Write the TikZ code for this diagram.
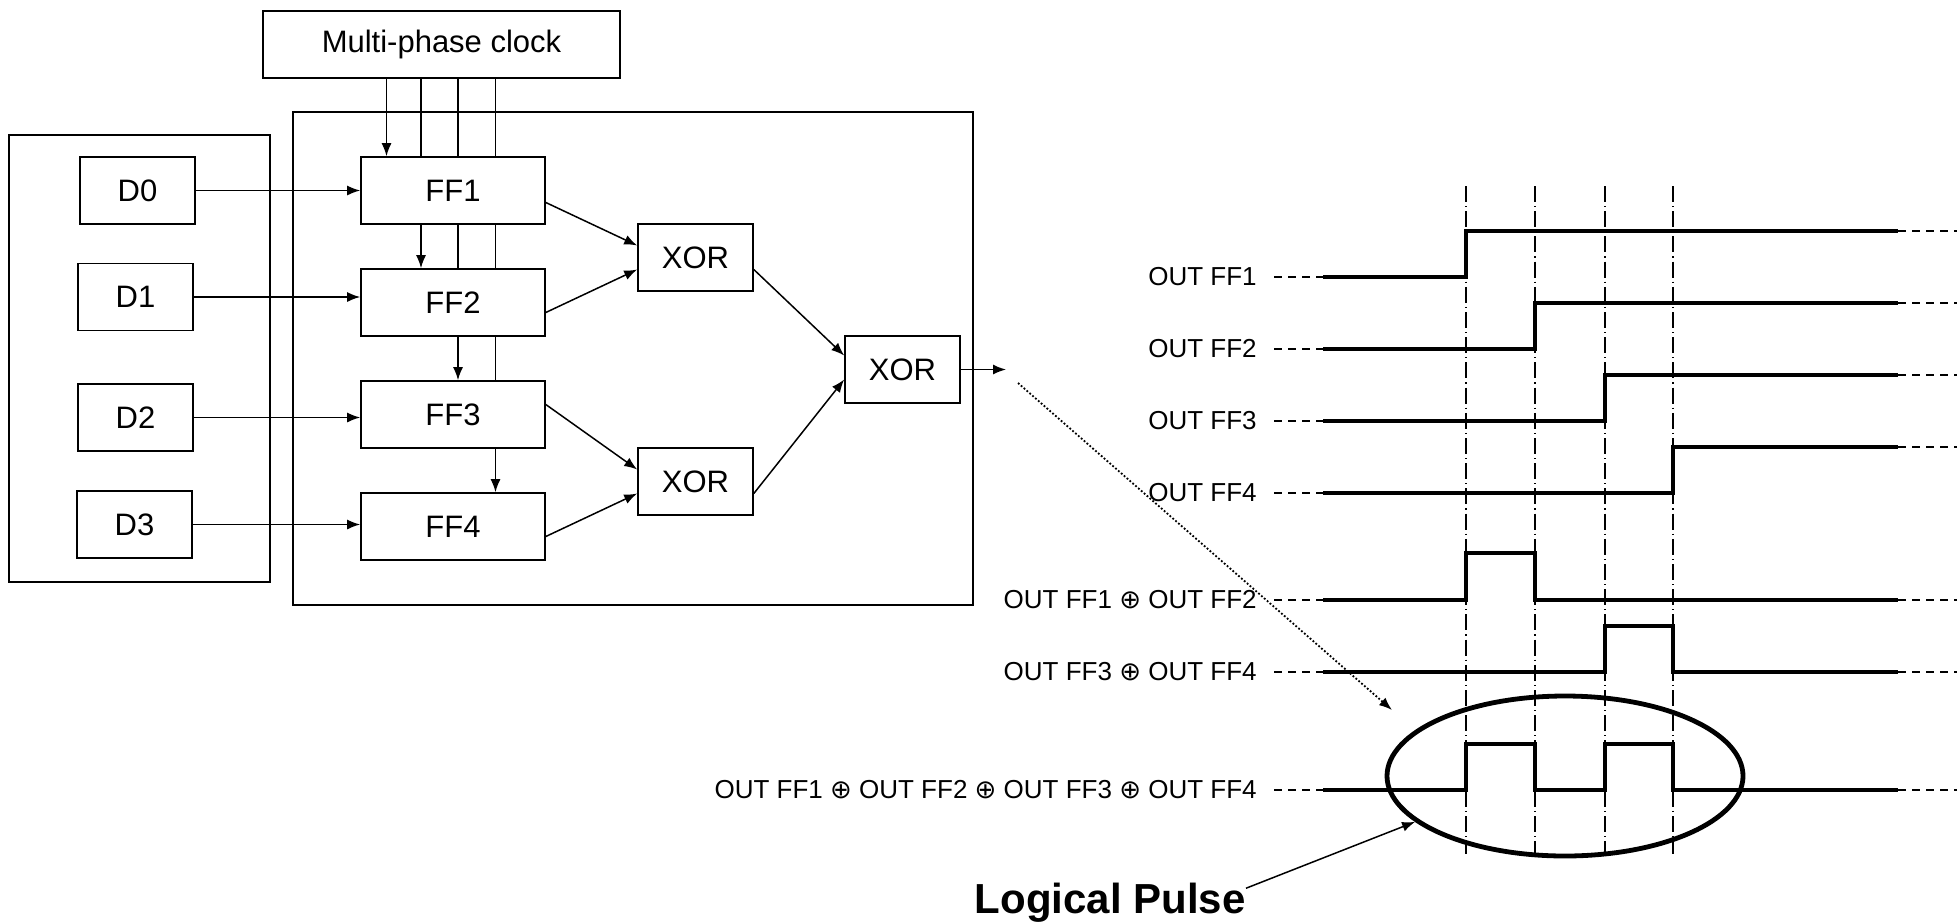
\documentclass[tikz,border=0pt]{standalone}
\usepackage{fontspec}
\setmainfont{Liberation Sans}
\newfontfamily\symfont{DejaVu Sans}
\usetikzlibrary{arrows.meta,shapes.geometric}
\newcommand{\xorsym}{{\symfont ⊕}}

\begin{document}
\begin{tikzpicture}[x=0.5pt, y=-0.5pt,
    >={Latex[length=6.5pt,width=5pt]},
    block/.style={draw, line width=.8pt, fill=white, minimum height=33.5pt,
                  inner sep=0pt, font=\fontsize{15.5}{18}\selectfont},
    ffbox/.style={block, minimum width=92pt},
    dbox/.style={block, minimum width=57.5pt},
    wire/.style={line width=.75pt},
    signal/.style={line width=1.7pt},
    sigdash/.style={line width=.75pt, dash pattern=on 4pt off 3pt},
    marker/.style={line width=.55pt, dash pattern=on 8pt off 2pt on .6pt off 2pt},
    siglabel/.style={anchor=east, inner sep=0pt, font=\fontsize{13}{15}\selectfont}]
  \useasboundingbox (0,0) rectangle (1957,921);

  % frames
  \draw[line width=.8pt] (9,135) rectangle (270,582);
  \draw[line width=.8pt] (293,112) rectangle (973,605);

  \node[block, minimum width=178.5pt] (clock) at (441.5,44.5) {Multi-phase clock};

  \node[dbox] (d0) at (137.5,190.5) {D0};
  \node[dbox] (d1) at (135.5,297) {D1};
  \node[dbox] (d2) at (135.5,417.5) {D2};
  \node[dbox] (d3) at (134.5,524.5) {D3};

  \node[ffbox] (ff1) at (453,190.5) {FF1};
  \node[ffbox] (ff2) at (453,302.5) {FF2};
  \node[ffbox] (ff3) at (453,414.5) {FF3};
  \node[ffbox] (ff4) at (453,526.5) {FF4};

  \node[dbox] (xora) at (695.5,257.5) {XOR};
  \node[dbox] (xorb) at (695.5,481.5) {XOR};
  \node[dbox] (xorc) at (902.5,369.5) {XOR};

  % clock phases
  \foreach \k/\x in {1/386.5, 2/421, 3/458, 4/495.5}
    \coordinate (k\k) at (\x,0);
  \foreach \a/\b/\k in {clock/ff1/k2, clock/ff1/k3, ff1/ff2/k3, clock/ff1/k4, ff1/ff2/k4, ff2/ff3/k4}
    \draw[wire] (\a.south -| \k) -- (\b.north -| \k);
  \foreach \a/\b/\k in {clock/ff1/k1, ff1/ff2/k2, ff2/ff3/k3, ff3/ff4/k4}
    \draw[wire,->] (\a.south -| \k) -- (\b.north -| \k);

  % data inputs
  \foreach \i in {0,...,3}
    \pgfmathtruncatemacro{\j}{\i+1}
    \draw[wire,->] (d\i.east) -- (d\i.east -| ff\j.west);

  \draw[wire,->] ([yshift=-6pt]ff1.east) -- ([yshift=6pt]xora.west);
  \draw[wire,->] ([yshift=-5pt]ff2.east) -- ([yshift=-6pt]xora.west);
  \draw[wire,->] ([yshift=5pt]ff3.east) -- ([yshift=6pt]xorb.west);
  \draw[wire,->] ([yshift=-5pt]ff4.east) -- ([yshift=-6pt]xorb.west);
  \draw[wire,->] ([yshift=-6pt]xora.east) -- ([yshift=7pt]xorc.west);
  \draw[wire,->] ([yshift=-6pt]xorb.east) -- ([yshift=-5pt]xorc.west);
  \coordinate (xout) at (1006,369.5);
  \draw[wire,->] (xorc.east) -- (xout);

  % timing
  \foreach \x in {1466,1535,1605,1673}
    \draw[marker] (\x,186) -- (\x,854);

  \foreach \i/\lo/\t in {1/277/1466, 2/349/1535, 3/421/1605, 4/493/1673} {
    \node[siglabel] (outff\i) at (1257,\lo) {OUT FF\i};
    \draw[sigdash] (1274,\lo) -- (1323,\lo);
    \draw[signal] (1323,\lo) -- (\t,\lo) -- (\t,\lo-46) -- (1898,\lo-46);
    \draw[sigdash] (1898,\lo-46) -- (1957,\lo-46);
  }

  \node[siglabel] (outab) at (1257,600) {OUT FF1 \xorsym{} OUT FF2};
  \node[siglabel] (outcd) at (1257,672) {OUT FF3 \xorsym{} OUT FF4};
  \node[siglabel] (outall) at (1257,790) {OUT FF1 \xorsym{} OUT FF2 \xorsym{} OUT FF3 \xorsym{} OUT FF4};
  \foreach \lo in {600,672,790} {
    \draw[sigdash] (1274,\lo) -- (1323,\lo);
    \draw[sigdash] (1898,\lo) -- (1957,\lo);
  }
  \draw[signal] (1323,600) -- (1466,600) -- (1466,553) -- (1535,553) -- (1535,600) -- (1898,600);
  \draw[signal] (1323,672) -- (1605,672) -- (1605,626) -- (1673,626) -- (1673,672) -- (1898,672);
  \draw[signal] (1323,790) -- (1466,790) -- (1466,744) -- (1535,744) -- (1535,790)
    -- (1605,790) -- (1605,744) -- (1673,744) -- (1673,790) -- (1898,790);

  \node[draw, ellipse, line width=2.4pt, minimum width=178pt, minimum height=80pt,
        inner sep=0pt] (ring) at (1565,776) {};

  \coordinate (dotfrom) at (1018,383);
  \coordinate (dotto) at (1392,710);
  \draw[line width=.9pt, densely dotted, ->] (dotfrom) -- (dotto);

  \node[anchor=base east, inner sep=0pt, font=\bfseries\fontsize{21}{25}\selectfont]
    (pulse) at (1246,913) {Logical Pulse};
  \draw[wire,->] ([yshift=7pt]pulse.east) -- (ring.197);
\end{tikzpicture}
\end{document}
